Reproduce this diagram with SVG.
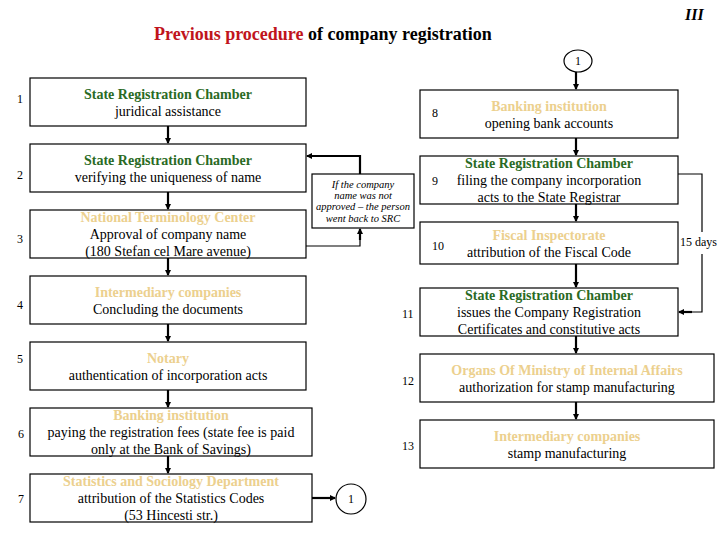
<svg xmlns="http://www.w3.org/2000/svg" width="720" height="540" viewBox="0 0 720 540" font-family="'Liberation Serif', 'DejaVu Serif', serif">
<defs>
<style>
text{font-family:'Liberation Serif','DejaVu Serif',serif;font-size:14px;fill:#000}
.box{fill:#fff;stroke:#000;stroke-width:1.2}
.h{font-weight:bold}
.g{fill:#2a6a24}
.t{fill:#ecd08e}
.c{text-anchor:middle}
.num{font-size:12px}
.con{fill:none;stroke:#000;stroke-width:2.2}
.thin{fill:none;stroke:#000;stroke-width:1.2}
.note{font-style:italic;font-size:10.5px}
</style>
<marker id="ah" markerWidth="6" markerHeight="6" refX="5" refY="3" orient="auto" markerUnits="userSpaceOnUse">
<path d="M0,0 L6,3 L0,6 Z" fill="#000"/>
</marker>
</defs>
<rect width="720" height="540" fill="#fff"/>
<text x="685" y="20" style="font-weight:bold;font-style:italic;font-size:16px">III</text>
<text x="154" y="40" style="font-weight:bold;font-size:18px"><tspan fill="#c0141c">Previous procedure</tspan> of company registration</text>

<g id="connectors">
<line class="con" x1="168" y1="126" x2="168" y2="143" marker-end="url(#ah)"/>
<line class="con" x1="168" y1="192" x2="168" y2="209" marker-end="url(#ah)"/>
<line class="con" x1="168" y1="258" x2="168" y2="275" marker-end="url(#ah)"/>
<line class="con" x1="168" y1="324" x2="168" y2="341" marker-end="url(#ah)"/>
<line class="con" x1="168" y1="390" x2="168" y2="407" marker-end="url(#ah)"/>
<line class="con" x1="168" y1="456" x2="168" y2="473" marker-end="url(#ah)"/>
<line class="con" x1="312" y1="498" x2="335" y2="498" marker-end="url(#ah)"/>
<polyline class="thin" points="306,246 360,246 360,238"/>
<line class="con" x1="360" y1="240" x2="360" y2="229" marker-end="url(#ah)"/>
<polyline class="con" points="360,174 360,156 307,156" marker-end="url(#ah)"/>
<line class="con" x1="576" y1="72" x2="576" y2="89" marker-end="url(#ah)"/>
<line class="con" x1="576" y1="138" x2="576" y2="155" marker-end="url(#ah)"/>
<line class="con" x1="576" y1="204" x2="576" y2="221" marker-end="url(#ah)"/>
<line class="con" x1="576" y1="264" x2="576" y2="287" marker-end="url(#ah)"/>
<line class="con" x1="576" y1="336" x2="576" y2="353" marker-end="url(#ah)"/>
<line class="con" x1="576" y1="402" x2="576" y2="419" marker-end="url(#ah)"/>
<polyline class="thin" points="678,174 702,174 702,232"/>
<polyline class="thin" points="702,254 702,312 690,312"/>
<line class="con" x1="692" y1="312" x2="679" y2="312" marker-end="url(#ah)"/>
<text x="680" y="246" style="font-size:12px">15 days</text>
</g>

<g id="n1"><rect class="box" x="30" y="78" width="276" height="48"/>
<text class="num" x="17" y="103">1</text>
<text class="h g c" x="168" y="99">State Registration Chamber</text>
<text class="c" x="168" y="116">juridical assistance</text></g>

<g id="n2"><rect class="box" x="30" y="144" width="276" height="48"/>
<text class="num" x="17" y="179">2</text>
<text class="h g c" x="168" y="165">State Registration Chamber</text>
<text class="c" x="168" y="182">verifying the uniqueness of name</text></g>

<g id="n3"><rect class="box" x="30" y="210" width="276" height="48"/>
<text class="num" x="17" y="243">3</text>
<text class="h t c" x="168" y="222">National Terminology Center</text>
<text class="c" x="168" y="239">Approval of company name</text>
<text class="c" x="168" y="256">(180 Stefan cel Mare avenue)</text></g>

<g id="n4"><rect class="box" x="30" y="276" width="276" height="48"/>
<text class="num" x="17" y="309">4</text>
<text class="h t c" x="168" y="297">Intermediary companies</text>
<text class="c" x="168" y="314">Concluding the documents</text></g>

<g id="n5"><rect class="box" x="30" y="342" width="276" height="48"/>
<text class="num" x="17" y="363">5</text>
<text class="h t c" x="168" y="363">Notary</text>
<text class="c" x="168" y="380">authentication of incorporation acts</text></g>

<g id="n6"><rect class="box" x="30" y="408" width="282" height="48"/>
<text class="num" x="18" y="438">6</text>
<text class="h t c" x="171" y="420">Banking institution</text>
<text class="c" x="171" y="437">paying the registration fees  (state fee is paid</text>
<text class="c" x="171" y="454">only at the Bank of Savings)</text></g>

<g id="n7"><rect class="box" x="30" y="474" width="282" height="48"/>
<text class="num" x="18" y="503">7</text>
<text class="h t c" x="171" y="486">Statistics and Sociology Department</text>
<text class="c" x="171" y="503">attribution of the Statistics Codes</text>
<text class="c" x="171" y="520">(53 Hincesti str.)</text></g>

<g id="note"><rect class="box" x="312" y="174" width="102" height="54"/>
<text class="note c" x="363" y="188">If the company</text>
<text class="note c" x="363" y="199">name was not</text>
<text class="note c" x="363" y="210">approved – the person</text>
<text class="note c" x="363" y="222">went back to SRC</text></g>

<g id="c1top"><ellipse class="thin" cx="578" cy="61" rx="14" ry="11"/>
<text class="c num" x="578" y="65">1</text></g>

<g id="c1bot"><circle class="thin" cx="351" cy="499" r="15"/>
<text class="c num" x="351" y="503">1</text></g>

<g id="n8"><rect class="box" x="420" y="90" width="258" height="48"/>
<text class="num" x="432" y="117">8</text>
<text class="h t c" x="549" y="111">Banking institution</text>
<text class="c" x="549" y="128">opening bank accounts</text></g>

<g id="n9"><rect class="box" x="420" y="156" width="258" height="48"/>
<text class="num" x="432" y="185">9</text>
<text class="h g c" x="549" y="168">State Registration Chamber</text>
<text class="c" x="549" y="185">filing the company incorporation</text>
<text class="c" x="549" y="202">acts to the State Registrar</text></g>

<g id="n10"><rect class="box" x="420" y="222" width="258" height="42"/>
<text class="num" x="432" y="250">10</text>
<text class="h t c" x="549" y="240">Fiscal Inspectorate</text>
<text class="c" x="549" y="257">attribution of the Fiscal Code</text></g>

<g id="n11"><rect class="box" x="420" y="288" width="258" height="48"/>
<text class="num" x="402" y="318">11</text>
<text class="h g c" x="549" y="300">State Registration Chamber</text>
<text class="c" x="549" y="317">issues the Company Registration</text>
<text class="c" x="549" y="334">Certificates and constitutive acts</text></g>

<g id="n12"><rect class="box" x="420" y="354" width="294" height="48"/>
<text class="num" x="402" y="385">12</text>
<text class="h t c" x="567" y="375">Organs Of Ministry of Internal Affairs</text>
<text class="c" x="567" y="392">authorization for stamp manufacturing</text></g>

<g id="n13"><rect class="box" x="420" y="420" width="294" height="48"/>
<text class="num" x="402" y="450">13</text>
<text class="h t c" x="567" y="441">Intermediary companies</text>
<text class="c" x="567" y="458">stamp manufacturing</text></g>
</svg>
